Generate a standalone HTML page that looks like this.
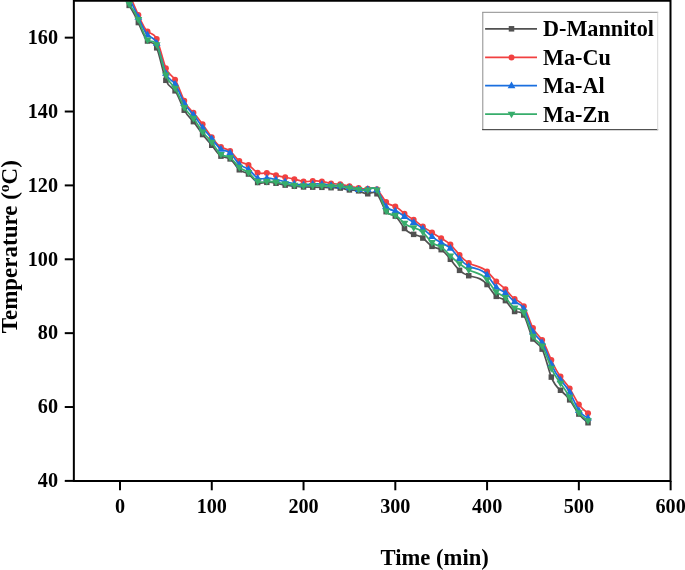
<!DOCTYPE html>
<html lang="en">
<head>
<meta charset="utf-8">
<title>Temperature vs Time</title>
<style>
html,body{margin:0;padding:0;background:#fff;}
body{width:685px;height:570px;overflow:hidden;position:relative;font-family:"Liberation Serif","Times New Roman",serif;}
</style>
</head>
<body>
<svg width="685" height="570" viewBox="0 0 685 570" style="display:block;position:absolute;left:0;top:0;will-change:transform">
<rect width="685" height="570" fill="#fff"/>
<defs><clipPath id="plotclip"><rect x="74" y="0" width="597" height="481"/></clipPath></defs>
<g clip-path="url(#plotclip)">
<path d="M129.18,5.40 C132.24,10.52 135.29,15.63 138.35,22.56 C141.41,29.48 144.47,38.20 147.53,41.01 C150.59,43.81 153.65,40.70 156.71,47.83 C159.77,54.97 162.83,72.35 165.88,80.30 C168.94,88.26 172.00,86.78 175.06,90.82 C178.12,94.86 181.18,104.41 184.24,110.19 C187.30,115.98 190.36,117.99 193.42,121.63 C196.47,125.27 199.53,130.53 202.59,134.55 C205.65,138.56 208.71,141.32 211.77,145.25 C214.83,149.18 217.89,154.27 220.95,156.13 C224.01,158.00 227.06,156.63 230.12,158.90 C233.18,161.18 236.24,167.10 239.30,169.79 C242.36,172.48 245.42,171.93 248.48,174.03 C251.54,176.13 254.60,180.87 257.65,182.52 C260.71,184.17 263.77,182.73 266.83,182.33 C269.89,181.94 272.95,182.59 276.01,183.25 C279.07,183.92 282.13,184.60 285.19,185.10 C288.25,185.60 291.30,185.91 294.36,186.21 C297.42,186.51 300.48,186.80 303.54,186.94 C306.60,187.09 309.66,187.11 312.72,187.13 C315.78,187.15 318.83,187.19 321.89,187.31 C324.95,187.44 328.01,187.64 331.07,187.68 C334.13,187.72 337.19,187.59 340.25,188.05 C343.31,188.51 346.37,189.57 349.42,189.90 C352.48,190.23 355.54,189.84 358.60,190.82 C361.66,191.80 364.72,194.16 367.78,193.77 C370.84,193.38 373.90,190.24 376.96,193.77 C380.01,197.31 383.07,207.52 386.13,211.67 C389.19,215.81 392.25,213.88 395.31,216.10 C398.37,218.31 401.43,224.66 404.49,228.46 C407.55,232.25 410.60,233.49 413.66,234.36 C416.72,235.23 419.78,235.74 422.84,238.05 C425.90,240.36 428.96,244.46 432.02,246.35 C435.08,248.24 438.14,247.92 441.19,249.67 C444.25,251.43 447.31,255.26 450.37,259.27 C453.43,263.28 456.49,267.47 459.55,270.34 C462.61,273.20 465.67,274.74 468.73,275.69 C474.84,277.58 480.96,277.11 487.08,284.55 C490.14,288.27 493.20,293.96 496.26,296.35 C499.32,298.74 502.38,297.82 505.43,300.60 C508.49,303.37 511.55,309.83 514.61,311.48 C517.67,313.13 520.73,309.97 523.79,314.99 C526.85,320.01 529.91,333.21 532.96,338.97 C536.02,344.74 539.08,343.06 542.14,349.12 C545.20,355.18 548.26,368.97 551.32,377.09 C554.38,385.21 557.44,387.67 560.50,390.26 C563.55,392.85 566.61,395.57 569.67,399.86 C572.73,404.14 575.79,409.99 578.85,414.06 C581.91,418.14 584.97,420.44 588.03,422.74" fill="none" stroke="#515151" stroke-width="1.7" stroke-linejoin="round"/>
<g><rect x="126.43" y="2.65" width="5.50" height="5.50" fill="#515151"/><rect x="135.60" y="19.81" width="5.50" height="5.50" fill="#515151"/><rect x="144.78" y="38.26" width="5.50" height="5.50" fill="#515151"/><rect x="153.96" y="45.08" width="5.50" height="5.50" fill="#515151"/><rect x="163.13" y="77.55" width="5.50" height="5.50" fill="#515151"/><rect x="172.31" y="88.07" width="5.50" height="5.50" fill="#515151"/><rect x="181.49" y="107.44" width="5.50" height="5.50" fill="#515151"/><rect x="190.67" y="118.88" width="5.50" height="5.50" fill="#515151"/><rect x="199.84" y="131.80" width="5.50" height="5.50" fill="#515151"/><rect x="209.02" y="142.50" width="5.50" height="5.50" fill="#515151"/><rect x="218.20" y="153.38" width="5.50" height="5.50" fill="#515151"/><rect x="227.37" y="156.15" width="5.50" height="5.50" fill="#515151"/><rect x="236.55" y="167.04" width="5.50" height="5.50" fill="#515151"/><rect x="245.73" y="171.28" width="5.50" height="5.50" fill="#515151"/><rect x="254.90" y="179.77" width="5.50" height="5.50" fill="#515151"/><rect x="264.08" y="179.58" width="5.50" height="5.50" fill="#515151"/><rect x="273.26" y="180.50" width="5.50" height="5.50" fill="#515151"/><rect x="282.44" y="182.35" width="5.50" height="5.50" fill="#515151"/><rect x="291.61" y="183.46" width="5.50" height="5.50" fill="#515151"/><rect x="300.79" y="184.19" width="5.50" height="5.50" fill="#515151"/><rect x="309.97" y="184.38" width="5.50" height="5.50" fill="#515151"/><rect x="319.14" y="184.56" width="5.50" height="5.50" fill="#515151"/><rect x="328.32" y="184.93" width="5.50" height="5.50" fill="#515151"/><rect x="337.50" y="185.30" width="5.50" height="5.50" fill="#515151"/><rect x="346.67" y="187.15" width="5.50" height="5.50" fill="#515151"/><rect x="355.85" y="188.07" width="5.50" height="5.50" fill="#515151"/><rect x="365.03" y="191.02" width="5.50" height="5.50" fill="#515151"/><rect x="374.21" y="191.02" width="5.50" height="5.50" fill="#515151"/><rect x="383.38" y="208.92" width="5.50" height="5.50" fill="#515151"/><rect x="392.56" y="213.35" width="5.50" height="5.50" fill="#515151"/><rect x="401.74" y="225.71" width="5.50" height="5.50" fill="#515151"/><rect x="410.91" y="231.61" width="5.50" height="5.50" fill="#515151"/><rect x="420.09" y="235.30" width="5.50" height="5.50" fill="#515151"/><rect x="429.27" y="243.60" width="5.50" height="5.50" fill="#515151"/><rect x="438.44" y="246.92" width="5.50" height="5.50" fill="#515151"/><rect x="447.62" y="256.52" width="5.50" height="5.50" fill="#515151"/><rect x="456.80" y="267.59" width="5.50" height="5.50" fill="#515151"/><rect x="465.98" y="272.94" width="5.50" height="5.50" fill="#515151"/><rect x="484.33" y="281.80" width="5.50" height="5.50" fill="#515151"/><rect x="493.51" y="293.60" width="5.50" height="5.50" fill="#515151"/><rect x="502.68" y="297.85" width="5.50" height="5.50" fill="#515151"/><rect x="511.86" y="308.73" width="5.50" height="5.50" fill="#515151"/><rect x="521.04" y="312.24" width="5.50" height="5.50" fill="#515151"/><rect x="530.21" y="336.22" width="5.50" height="5.50" fill="#515151"/><rect x="539.39" y="346.37" width="5.50" height="5.50" fill="#515151"/><rect x="548.57" y="374.34" width="5.50" height="5.50" fill="#515151"/><rect x="557.75" y="387.51" width="5.50" height="5.50" fill="#515151"/><rect x="566.92" y="397.11" width="5.50" height="5.50" fill="#515151"/><rect x="576.10" y="411.31" width="5.50" height="5.50" fill="#515151"/><rect x="585.28" y="419.99" width="5.50" height="5.50" fill="#515151"/></g>
<path d="M129.18,-6.04 C132.24,0.97 135.29,7.98 138.35,14.99 C141.41,22.00 144.47,29.02 147.53,31.60 C150.59,34.18 153.65,32.32 156.71,38.98 C159.77,45.63 162.83,60.79 165.88,68.13 C168.94,75.47 172.00,74.99 175.06,79.75 C178.12,84.52 181.18,94.52 184.24,100.78 C187.30,107.04 190.36,109.55 193.42,112.78 C196.47,116.00 199.53,119.94 202.59,124.21 C205.65,128.49 208.71,133.10 211.77,137.31 C214.83,141.53 217.89,145.35 220.95,147.09 C224.01,148.84 227.06,148.50 230.12,150.97 C233.18,153.44 236.24,158.71 239.30,161.11 C242.36,163.52 245.42,163.06 248.48,164.99 C251.54,166.92 254.60,171.23 257.65,172.74 C260.71,174.24 263.77,172.94 266.83,172.92 C269.89,172.90 272.95,174.17 276.01,175.14 C279.07,176.11 282.13,176.78 285.19,177.35 C288.25,177.93 291.30,178.40 294.36,179.20 C297.42,179.99 300.48,181.09 303.54,181.41 C306.60,181.73 309.66,181.25 312.72,181.04 C315.78,180.83 318.83,180.88 321.89,181.41 C324.95,181.94 328.01,182.93 331.07,183.44 C334.13,183.95 337.19,183.97 340.25,184.36 C343.31,184.76 346.37,185.53 349.42,186.21 C352.48,186.88 355.54,187.45 358.60,188.05 C361.66,188.66 364.72,189.29 367.78,188.79 C370.84,188.29 373.90,186.64 376.96,189.27 C380.01,191.90 383.07,198.79 386.13,202.07 C389.19,205.36 392.25,205.03 395.31,206.50 C398.37,207.98 401.43,211.26 404.49,213.70 C407.55,216.13 410.60,217.71 413.66,219.79 C416.72,221.86 419.78,224.43 422.84,226.61 C425.90,228.80 428.96,230.61 432.02,232.52 C435.08,234.43 438.14,236.44 441.19,238.24 C444.25,240.04 447.31,241.63 450.37,244.51 C453.43,247.39 456.49,251.57 459.55,255.03 C462.61,258.48 465.67,261.21 468.73,262.96 C474.84,266.45 480.96,265.98 487.08,271.45 C490.14,274.18 493.20,278.39 496.26,281.41 C499.32,284.42 502.38,286.24 505.43,289.34 C508.49,292.44 511.55,296.83 514.61,298.94 C517.67,301.04 520.73,300.87 523.79,306.13 C526.85,311.40 529.91,322.11 532.96,328.09 C536.02,334.07 539.08,335.32 542.14,340.08 C545.20,344.84 548.26,353.11 551.32,360.01 C554.38,366.90 557.44,372.43 560.50,376.61 C563.55,380.79 566.61,383.61 569.67,388.42 C572.73,393.23 575.79,400.02 578.85,404.47 C581.91,408.92 584.97,411.03 588.03,413.14" fill="none" stroke="#F14040" stroke-width="1.7" stroke-linejoin="round"/>
<g><circle cx="129.18" cy="-6.04" r="3.00" fill="#F14040"/><circle cx="138.35" cy="14.99" r="3.00" fill="#F14040"/><circle cx="147.53" cy="31.60" r="3.00" fill="#F14040"/><circle cx="156.71" cy="38.98" r="3.00" fill="#F14040"/><circle cx="165.88" cy="68.13" r="3.00" fill="#F14040"/><circle cx="175.06" cy="79.75" r="3.00" fill="#F14040"/><circle cx="184.24" cy="100.78" r="3.00" fill="#F14040"/><circle cx="193.42" cy="112.78" r="3.00" fill="#F14040"/><circle cx="202.59" cy="124.21" r="3.00" fill="#F14040"/><circle cx="211.77" cy="137.31" r="3.00" fill="#F14040"/><circle cx="220.95" cy="147.09" r="3.00" fill="#F14040"/><circle cx="230.12" cy="150.97" r="3.00" fill="#F14040"/><circle cx="239.30" cy="161.11" r="3.00" fill="#F14040"/><circle cx="248.48" cy="164.99" r="3.00" fill="#F14040"/><circle cx="257.65" cy="172.74" r="3.00" fill="#F14040"/><circle cx="266.83" cy="172.92" r="3.00" fill="#F14040"/><circle cx="276.01" cy="175.14" r="3.00" fill="#F14040"/><circle cx="285.19" cy="177.35" r="3.00" fill="#F14040"/><circle cx="294.36" cy="179.20" r="3.00" fill="#F14040"/><circle cx="303.54" cy="181.41" r="3.00" fill="#F14040"/><circle cx="312.72" cy="181.04" r="3.00" fill="#F14040"/><circle cx="321.89" cy="181.41" r="3.00" fill="#F14040"/><circle cx="331.07" cy="183.44" r="3.00" fill="#F14040"/><circle cx="340.25" cy="184.36" r="3.00" fill="#F14040"/><circle cx="349.42" cy="186.21" r="3.00" fill="#F14040"/><circle cx="358.60" cy="188.05" r="3.00" fill="#F14040"/><circle cx="367.78" cy="188.79" r="3.00" fill="#F14040"/><circle cx="376.96" cy="189.27" r="3.00" fill="#F14040"/><circle cx="386.13" cy="202.07" r="3.00" fill="#F14040"/><circle cx="395.31" cy="206.50" r="3.00" fill="#F14040"/><circle cx="404.49" cy="213.70" r="3.00" fill="#F14040"/><circle cx="413.66" cy="219.79" r="3.00" fill="#F14040"/><circle cx="422.84" cy="226.61" r="3.00" fill="#F14040"/><circle cx="432.02" cy="232.52" r="3.00" fill="#F14040"/><circle cx="441.19" cy="238.24" r="3.00" fill="#F14040"/><circle cx="450.37" cy="244.51" r="3.00" fill="#F14040"/><circle cx="459.55" cy="255.03" r="3.00" fill="#F14040"/><circle cx="468.73" cy="262.96" r="3.00" fill="#F14040"/><circle cx="487.08" cy="271.45" r="3.00" fill="#F14040"/><circle cx="496.26" cy="281.41" r="3.00" fill="#F14040"/><circle cx="505.43" cy="289.34" r="3.00" fill="#F14040"/><circle cx="514.61" cy="298.94" r="3.00" fill="#F14040"/><circle cx="523.79" cy="306.13" r="3.00" fill="#F14040"/><circle cx="532.96" cy="328.09" r="3.00" fill="#F14040"/><circle cx="542.14" cy="340.08" r="3.00" fill="#F14040"/><circle cx="551.32" cy="360.01" r="3.00" fill="#F14040"/><circle cx="560.50" cy="376.61" r="3.00" fill="#F14040"/><circle cx="569.67" cy="388.42" r="3.00" fill="#F14040"/><circle cx="578.85" cy="404.47" r="3.00" fill="#F14040"/><circle cx="588.03" cy="413.14" r="3.00" fill="#F14040"/></g>
<path d="M129.18,-1.61 C132.24,4.35 135.29,10.32 138.35,17.21 C141.41,24.09 144.47,31.88 147.53,34.92 C150.59,37.95 153.65,36.23 156.71,43.22 C159.77,50.20 162.83,65.90 165.88,73.29 C168.94,80.69 172.00,79.80 175.06,83.99 C178.12,88.19 181.18,97.48 184.24,103.18 C187.30,108.88 190.36,110.99 193.42,114.62 C196.47,118.26 199.53,123.42 202.59,127.54 C205.65,131.65 208.71,134.72 211.77,138.61 C214.83,142.49 217.89,147.20 220.95,149.12 C224.01,151.05 227.06,150.19 230.12,152.81 C233.18,155.44 236.24,161.55 239.30,164.44 C242.36,167.32 245.42,166.97 248.48,169.23 C251.54,171.50 254.60,176.38 257.65,178.09 C260.71,179.80 263.77,178.34 266.83,178.09 C269.89,177.84 272.95,178.81 276.01,179.56 C279.07,180.32 282.13,180.88 285.19,181.59 C288.25,182.31 291.30,183.19 294.36,183.81 C297.42,184.42 300.48,184.78 303.54,184.73 C306.60,184.69 309.66,184.24 312.72,183.99 C315.78,183.74 318.83,183.68 321.89,183.99 C324.95,184.31 328.01,184.99 331.07,185.28 C334.13,185.58 337.19,185.48 340.25,185.84 C343.31,186.20 346.37,187.02 349.42,187.68 C352.48,188.35 355.54,188.86 358.60,189.34 C361.66,189.83 364.72,190.28 367.78,189.42 C370.84,188.56 373.90,186.38 376.96,189.82 C380.01,193.26 383.07,202.31 386.13,206.50 C389.19,210.69 392.25,210.03 395.31,210.93 C398.37,211.83 401.43,214.30 404.49,216.47 C407.55,218.63 410.60,220.48 413.66,222.37 C416.72,224.26 419.78,226.19 422.84,228.64 C425.90,231.10 428.96,234.09 432.02,236.58 C435.08,239.06 438.14,241.06 441.19,242.66 C444.25,244.27 447.31,245.50 450.37,248.20 C453.43,250.90 456.49,255.08 459.55,258.53 C462.61,261.98 465.67,264.71 468.73,266.28 C474.84,269.42 480.96,267.91 487.08,274.95 C490.14,278.47 493.20,284.13 496.26,287.13 C499.32,290.12 502.38,290.45 505.43,292.85 C508.49,295.25 511.55,299.72 514.61,301.70 C517.67,303.69 520.73,303.20 523.79,308.72 C526.85,314.23 529.91,325.75 532.96,331.59 C536.02,337.44 539.08,337.61 542.14,342.48 C545.20,347.35 548.26,356.93 551.32,364.06 C554.38,371.20 557.44,375.90 560.50,379.75 C563.55,383.60 566.61,386.60 569.67,392.11 C572.73,397.62 575.79,405.65 578.85,410.37 C581.91,415.10 584.97,416.52 588.03,417.94" fill="none" stroke="#1A6FDF" stroke-width="1.7" stroke-linejoin="round"/>
<g><polygon points="129.18,-5.71 133.07,0.93 125.28,0.93" fill="#1A6FDF"/><polygon points="138.35,13.11 142.25,19.75 134.46,19.75" fill="#1A6FDF"/><polygon points="147.53,30.82 151.43,37.46 143.64,37.46" fill="#1A6FDF"/><polygon points="156.71,39.12 160.60,45.76 152.81,45.76" fill="#1A6FDF"/><polygon points="165.88,69.19 169.78,75.83 161.99,75.83" fill="#1A6FDF"/><polygon points="175.06,79.89 178.96,86.54 171.17,86.54" fill="#1A6FDF"/><polygon points="184.24,99.08 188.13,105.72 180.34,105.72" fill="#1A6FDF"/><polygon points="193.42,110.52 197.31,117.16 189.52,117.16" fill="#1A6FDF"/><polygon points="202.59,123.44 206.49,130.08 198.70,130.08" fill="#1A6FDF"/><polygon points="211.77,134.51 215.66,141.15 207.87,141.15" fill="#1A6FDF"/><polygon points="220.95,145.02 224.84,151.66 217.05,151.66" fill="#1A6FDF"/><polygon points="230.12,148.71 234.02,155.35 226.23,155.35" fill="#1A6FDF"/><polygon points="239.30,160.34 243.20,166.98 235.41,166.98" fill="#1A6FDF"/><polygon points="248.48,165.13 252.37,171.78 244.58,171.78" fill="#1A6FDF"/><polygon points="257.65,173.99 261.55,180.63 253.76,180.63" fill="#1A6FDF"/><polygon points="266.83,173.99 270.73,180.63 262.94,180.63" fill="#1A6FDF"/><polygon points="276.01,175.47 279.90,182.11 272.11,182.11" fill="#1A6FDF"/><polygon points="285.19,177.49 289.08,184.14 281.29,184.14" fill="#1A6FDF"/><polygon points="294.36,179.71 298.26,186.35 290.47,186.35" fill="#1A6FDF"/><polygon points="303.54,180.63 307.43,187.27 299.64,187.27" fill="#1A6FDF"/><polygon points="312.72,179.89 316.61,186.53 308.82,186.53" fill="#1A6FDF"/><polygon points="321.89,179.89 325.79,186.53 318.00,186.53" fill="#1A6FDF"/><polygon points="331.07,181.18 334.97,187.83 327.18,187.83" fill="#1A6FDF"/><polygon points="340.25,181.74 344.14,188.38 336.35,188.38" fill="#1A6FDF"/><polygon points="349.42,183.58 353.32,190.22 345.53,190.22" fill="#1A6FDF"/><polygon points="358.60,185.24 362.50,191.89 354.71,191.89" fill="#1A6FDF"/><polygon points="367.78,185.32 371.67,191.96 363.88,191.96" fill="#1A6FDF"/><polygon points="376.96,185.72 380.85,192.37 373.06,192.37" fill="#1A6FDF"/><polygon points="386.13,202.40 390.03,209.04 382.24,209.04" fill="#1A6FDF"/><polygon points="395.31,206.83 399.20,213.47 391.42,213.47" fill="#1A6FDF"/><polygon points="404.49,212.37 408.38,219.01 400.59,219.01" fill="#1A6FDF"/><polygon points="413.66,218.27 417.56,224.91 409.77,224.91" fill="#1A6FDF"/><polygon points="422.84,224.54 426.74,231.18 418.95,231.18" fill="#1A6FDF"/><polygon points="432.02,232.48 435.91,239.12 428.12,239.12" fill="#1A6FDF"/><polygon points="441.19,238.56 445.09,245.21 437.30,245.21" fill="#1A6FDF"/><polygon points="450.37,244.10 454.27,250.74 446.48,250.74" fill="#1A6FDF"/><polygon points="459.55,254.43 463.44,261.07 455.65,261.07" fill="#1A6FDF"/><polygon points="468.73,262.18 472.62,268.82 464.83,268.82" fill="#1A6FDF"/><polygon points="487.08,270.85 490.97,277.49 483.19,277.49" fill="#1A6FDF"/><polygon points="496.26,283.03 500.15,289.67 492.36,289.67" fill="#1A6FDF"/><polygon points="505.43,288.75 509.33,295.39 501.54,295.39" fill="#1A6FDF"/><polygon points="514.61,297.60 518.51,304.25 510.72,304.25" fill="#1A6FDF"/><polygon points="523.79,304.62 527.68,311.26 519.89,311.26" fill="#1A6FDF"/><polygon points="532.96,327.49 536.86,334.13 529.07,334.13" fill="#1A6FDF"/><polygon points="542.14,338.38 546.04,345.02 538.25,345.02" fill="#1A6FDF"/><polygon points="551.32,359.96 555.21,366.61 547.42,366.61" fill="#1A6FDF"/><polygon points="560.50,375.65 564.39,382.29 556.60,382.29" fill="#1A6FDF"/><polygon points="569.67,388.01 573.57,394.65 565.78,394.65" fill="#1A6FDF"/><polygon points="578.85,406.27 582.74,412.92 574.95,412.92" fill="#1A6FDF"/><polygon points="588.03,413.84 591.92,420.48 584.13,420.48" fill="#1A6FDF"/></g>
<path d="M129.18,4.11 C132.24,8.25 135.29,12.39 138.35,19.60 C141.41,26.82 144.47,37.10 147.53,40.08 C150.59,43.06 153.65,38.73 156.71,44.70 C159.77,50.66 162.83,66.91 165.88,75.14 C168.94,83.37 172.00,83.58 175.06,88.24 C178.12,92.90 181.18,102.02 184.24,107.43 C187.30,112.84 190.36,114.54 193.42,118.31 C196.47,122.08 199.53,127.92 202.59,131.96 C205.65,136.01 208.71,138.26 211.77,142.30 C214.83,146.33 217.89,152.15 220.95,154.47 C224.01,156.79 227.06,155.62 230.12,157.61 C233.18,159.60 236.24,164.75 239.30,167.39 C242.36,170.02 245.42,170.13 248.48,172.55 C251.54,174.98 254.60,179.71 257.65,181.41 C260.71,183.11 263.77,181.79 266.83,181.41 C269.89,181.03 272.95,181.59 276.01,182.15 C279.07,182.70 282.13,183.26 285.19,183.81 C288.25,184.36 291.30,184.92 294.36,185.28 C297.42,185.65 300.48,185.83 303.54,185.84 C306.60,185.85 309.66,185.70 312.72,185.65 C315.78,185.61 318.83,185.68 321.89,185.84 C324.95,186.00 328.01,186.26 331.07,186.21 C334.13,186.16 337.19,185.81 340.25,186.13 C343.31,186.46 346.37,187.46 349.42,188.05 C352.48,188.64 355.54,188.81 358.60,189.42 C361.66,190.03 364.72,191.08 367.78,190.01 C370.84,188.94 373.90,185.75 376.96,190.01 C380.01,194.26 383.07,205.96 386.13,210.93 C389.19,215.90 392.25,214.16 395.31,215.36 C398.37,216.56 401.43,220.71 404.49,223.29 C407.55,225.87 410.60,226.87 413.66,227.72 C416.72,228.57 419.78,229.26 422.84,232.15 C425.90,235.04 428.96,240.13 432.02,242.66 C435.08,245.20 438.14,245.18 441.19,247.09 C444.25,249.01 447.31,252.87 450.37,255.95 C453.43,259.03 456.49,261.34 459.55,263.70 C462.61,266.06 465.67,268.46 468.73,269.97 C474.84,272.98 480.96,272.39 487.08,279.75 C490.14,283.43 493.20,289.09 496.26,291.93 C499.32,294.76 502.38,294.76 505.43,297.65 C508.49,300.53 511.55,306.31 514.61,307.98 C517.67,309.64 520.73,307.20 523.79,312.41 C526.85,317.61 529.91,330.48 532.96,336.39 C536.02,342.30 539.08,341.26 542.14,345.98 C545.20,350.71 548.26,361.21 551.32,368.31 C554.38,375.41 557.44,379.12 560.50,383.25 C563.55,387.38 566.61,391.94 569.67,397.28 C572.73,402.61 575.79,408.74 578.85,412.77 C581.91,416.81 584.97,418.76 588.03,420.71" fill="none" stroke="#37AD6B" stroke-width="1.7" stroke-linejoin="round"/>
<g><polygon points="129.18,8.21 133.07,1.56 125.28,1.56" fill="#37AD6B"/><polygon points="138.35,23.70 142.25,17.06 134.46,17.06" fill="#37AD6B"/><polygon points="147.53,44.18 151.43,37.54 143.64,37.54" fill="#37AD6B"/><polygon points="156.71,48.80 160.60,42.15 152.81,42.15" fill="#37AD6B"/><polygon points="165.88,79.24 169.78,72.60 161.99,72.60" fill="#37AD6B"/><polygon points="175.06,92.34 178.96,85.70 171.17,85.70" fill="#37AD6B"/><polygon points="184.24,111.53 188.13,104.88 180.34,104.88" fill="#37AD6B"/><polygon points="193.42,122.41 197.31,115.77 189.52,115.77" fill="#37AD6B"/><polygon points="202.59,136.06 206.49,129.42 198.70,129.42" fill="#37AD6B"/><polygon points="211.77,146.40 215.66,139.75 207.87,139.75" fill="#37AD6B"/><polygon points="220.95,158.57 224.84,151.93 217.05,151.93" fill="#37AD6B"/><polygon points="230.12,161.71 234.02,155.07 226.23,155.07" fill="#37AD6B"/><polygon points="239.30,171.49 243.20,164.85 235.41,164.85" fill="#37AD6B"/><polygon points="248.48,176.65 252.37,170.01 244.58,170.01" fill="#37AD6B"/><polygon points="257.65,185.51 261.55,178.87 253.76,178.87" fill="#37AD6B"/><polygon points="266.83,185.51 270.73,178.87 262.94,178.87" fill="#37AD6B"/><polygon points="276.01,186.25 279.90,179.61 272.11,179.61" fill="#37AD6B"/><polygon points="285.19,187.91 289.08,181.27 281.29,181.27" fill="#37AD6B"/><polygon points="294.36,189.38 298.26,182.74 290.47,182.74" fill="#37AD6B"/><polygon points="303.54,189.94 307.43,183.30 299.64,183.30" fill="#37AD6B"/><polygon points="312.72,189.75 316.61,183.11 308.82,183.11" fill="#37AD6B"/><polygon points="321.89,189.94 325.79,183.30 318.00,183.30" fill="#37AD6B"/><polygon points="331.07,190.31 334.97,183.66 327.18,183.66" fill="#37AD6B"/><polygon points="340.25,190.23 344.14,183.59 336.35,183.59" fill="#37AD6B"/><polygon points="349.42,192.15 353.32,185.51 345.53,185.51" fill="#37AD6B"/><polygon points="358.60,193.52 362.50,186.88 354.71,186.88" fill="#37AD6B"/><polygon points="367.78,194.11 371.67,187.47 363.88,187.47" fill="#37AD6B"/><polygon points="376.96,194.11 380.85,187.47 373.06,187.47" fill="#37AD6B"/><polygon points="386.13,215.03 390.03,208.39 382.24,208.39" fill="#37AD6B"/><polygon points="395.31,219.46 399.20,212.82 391.42,212.82" fill="#37AD6B"/><polygon points="404.49,227.39 408.38,220.75 400.59,220.75" fill="#37AD6B"/><polygon points="413.66,231.82 417.56,225.18 409.77,225.18" fill="#37AD6B"/><polygon points="422.84,236.25 426.74,229.61 418.95,229.61" fill="#37AD6B"/><polygon points="432.02,246.76 435.91,240.12 428.12,240.12" fill="#37AD6B"/><polygon points="441.19,251.19 445.09,244.55 437.30,244.55" fill="#37AD6B"/><polygon points="450.37,260.05 454.27,253.41 446.48,253.41" fill="#37AD6B"/><polygon points="459.55,267.80 463.44,261.16 455.65,261.16" fill="#37AD6B"/><polygon points="468.73,274.07 472.62,267.43 464.83,267.43" fill="#37AD6B"/><polygon points="487.08,283.85 490.97,277.21 483.19,277.21" fill="#37AD6B"/><polygon points="496.26,296.03 500.15,289.38 492.36,289.38" fill="#37AD6B"/><polygon points="505.43,301.75 509.33,295.10 501.54,295.10" fill="#37AD6B"/><polygon points="514.61,312.08 518.51,305.44 510.72,305.44" fill="#37AD6B"/><polygon points="523.79,316.51 527.68,309.86 519.89,309.86" fill="#37AD6B"/><polygon points="532.96,340.49 536.86,333.85 529.07,333.85" fill="#37AD6B"/><polygon points="542.14,350.08 546.04,343.44 538.25,343.44" fill="#37AD6B"/><polygon points="551.32,372.41 555.21,365.77 547.42,365.77" fill="#37AD6B"/><polygon points="560.50,387.35 564.39,380.71 556.60,380.71" fill="#37AD6B"/><polygon points="569.67,401.38 573.57,394.73 565.78,394.73" fill="#37AD6B"/><polygon points="578.85,416.87 582.74,410.23 574.95,410.23" fill="#37AD6B"/><polygon points="588.03,424.81 591.92,418.16 584.13,418.16" fill="#37AD6B"/></g>
</g>
<g stroke="#000" stroke-width="2" fill="none" stroke-linecap="square">
<path d="M73.85,0.75 H670.5 V480.9 H73.85 Z"/>
<path d="M120.00,480.9 V490.29999999999995" stroke-linecap="butt"/>
<path d="M211.77,480.9 V490.29999999999995" stroke-linecap="butt"/>
<path d="M303.54,480.9 V490.29999999999995" stroke-linecap="butt"/>
<path d="M395.31,480.9 V490.29999999999995" stroke-linecap="butt"/>
<path d="M487.08,480.9 V490.29999999999995" stroke-linecap="butt"/>
<path d="M578.85,480.9 V490.29999999999995" stroke-linecap="butt"/>
<path d="M670.62,480.9 V490.29999999999995" stroke-linecap="butt"/>
<path d="M73.85,480.90 H64.75" stroke-linecap="butt"/>
<path d="M73.85,407.03 H64.75" stroke-linecap="butt"/>
<path d="M73.85,333.15 H64.75" stroke-linecap="butt"/>
<path d="M73.85,259.28 H64.75" stroke-linecap="butt"/>
<path d="M73.85,185.40 H64.75" stroke-linecap="butt"/>
<path d="M73.85,111.52 H64.75" stroke-linecap="butt"/>
<path d="M73.85,37.65 H64.75" stroke-linecap="butt"/>
</g>
<g font-family="'Liberation Serif', 'Times New Roman', serif" font-weight="bold" fill="#000">
<text x="120.00" y="513.3" font-size="20.2" text-anchor="middle">0</text>
<text x="211.77" y="513.3" font-size="20.2" text-anchor="middle">100</text>
<text x="303.54" y="513.3" font-size="20.2" text-anchor="middle">200</text>
<text x="395.31" y="513.3" font-size="20.2" text-anchor="middle">300</text>
<text x="487.08" y="513.3" font-size="20.2" text-anchor="middle">400</text>
<text x="578.85" y="513.3" font-size="20.2" text-anchor="middle">500</text>
<text x="670.62" y="513.3" font-size="20.2" text-anchor="middle">600</text>
<text x="58" y="487.20" font-size="20.2" text-anchor="end">40</text>
<text x="58" y="413.33" font-size="20.2" text-anchor="end">60</text>
<text x="58" y="339.45" font-size="20.2" text-anchor="end">80</text>
<text x="58" y="265.58" font-size="20.2" text-anchor="end">100</text>
<text x="58" y="191.70" font-size="20.2" text-anchor="end">120</text>
<text x="58" y="117.82" font-size="20.2" text-anchor="end">140</text>
<text x="58" y="43.95" font-size="20.2" text-anchor="end">160</text>
<text x="434.7" y="564.6" font-size="22.6" text-anchor="middle">Time (min)</text>
<text transform="translate(16.9,246.7) rotate(-90)" font-size="23" text-anchor="middle">Temperature (<tspan font-size="15.5" dy="-8.3">o</tspan><tspan dy="8.3">C)</tspan></text>
<rect x="482.7" y="12.2" width="175" height="117.3" fill="#fff"/>
<path d="M482.2,12.3 H658.2" stroke="#8c8c8c" stroke-width="1"/>
<path d="M482.8,12.3 V130" stroke="#8c8c8c" stroke-width="1"/>
<path d="M482.2,129.7 H658.2" stroke="#2a2a2a" stroke-width="1"/>
<path d="M657.7,12.3 V130" stroke="#d8d8d8" stroke-width="1"/>
<path d="M485.1,28.8 H537" stroke="#515151" stroke-width="1.7"/>
<rect x="508.75" y="26.05" width="5.50" height="5.50" fill="#515151"/>
<text x="543" y="36.1" font-size="22.2">D-Mannitol</text>
<path d="M485.1,57.4 H537" stroke="#F14040" stroke-width="1.7"/>
<circle cx="511.50" cy="57.40" r="3.00" fill="#F14040"/>
<text x="543" y="64.75" font-size="22.2">Ma-Cu</text>
<path d="M485.1,85.7 H537" stroke="#1A6FDF" stroke-width="1.7"/>
<polygon points="511.50,81.60 515.39,88.24 507.61,88.24" fill="#1A6FDF"/>
<text x="543" y="93.2" font-size="22.2">Ma-Al</text>
<path d="M485.1,114.2 H537" stroke="#37AD6B" stroke-width="1.7"/>
<polygon points="511.50,118.30 515.39,111.66 507.61,111.66" fill="#37AD6B"/>
<text x="543" y="121.55" font-size="22.2">Ma-Zn</text>
</g>
</svg>
</body>
</html>
